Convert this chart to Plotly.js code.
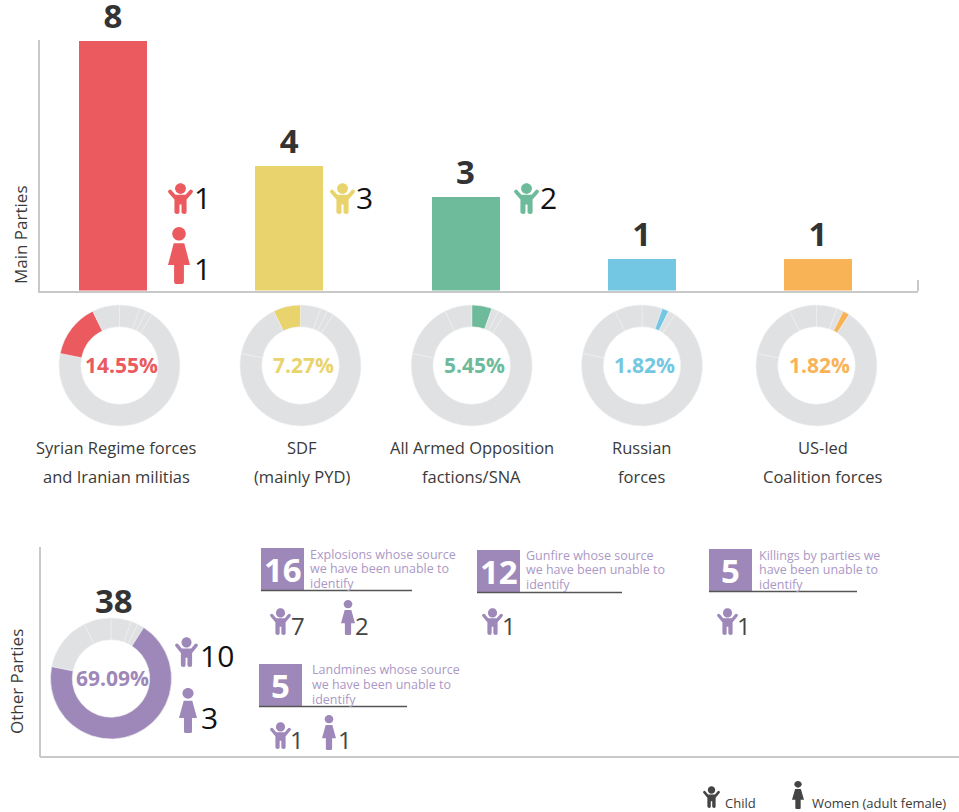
<!DOCTYPE html>
<html><head><meta charset="utf-8">
<script src="https://cdn.plot.ly/plotly-3.0.1.min.js"></script>
<style>html,body{margin:0;padding:0;background:#fff}#c{width:959px;height:812px}</style>
</head><body><div id="c"></div>
<script>
// ---- data ----
var parties = ["Syrian Regime forces and Iranian militias","SDF (mainly PYD)","All Armed Opposition factions/SNA","Russian forces","US-led Coalition forces"];
var partyDeaths = [8,4,3,1,1];
var partyColors = ["#ea5a5f","#e8d36c","#6dbb9b","#74c7e3","#f8b357"];
var partyPercent = ["14.55%","7.27%","5.45%","1.82%","1.82%"];
var labelLine1 = ["Syrian Regime forces","SDF","All Armed Opposition","Russian","US-led"];
var labelLine2 = ["and Iranian militias","(mainly PYD)","factions/SNA","forces","Coalition forces"];
var partyChildren = [1,3,2,null,null];
var partyWomen = [1,null,null,null,null];
// donut: slices clockwise from 12 o'clock
var sliceNames = ["All Armed Opposition","Russian forces","US-led Coalition","Other Parties","Syrian Regime","SDF"];
var sliceValues = [3,1,1,38,8,4];
var donutHighlight = [4,5,0,1,2,3];
var otherTotal = 38, otherPercent = "69.09%", otherChildren = 10, otherWomen = 3;
var otherBoxes = ["16","12","5","5"];
var otherBoxText = [
 ["Explosions whose source","we have been unable to","identify"],
 ["Gunfire whose source","we have been unable to","identify"],
 ["Killings by parties we","have been unable to","identify"],
 ["Landmines whose source","we have been unable to","identify"]];
var legendLabels = ["Child","Women (adult female)"];
var yTitles = ["Main Parties","Other Parties"];

// ---- style / layout ----
var W=959,H=812, FONT='"Open Sans", sans-serif';
var GREY="#e0e1e3", PURPLE="#9e88b9", PTEXT="#ab98c6", AXIS="#c9c9c9", DARK="#333333", LABEL="#3a3a3a";
function px(x){return x/W;} function py(y){return 1-y/H;}
function pt(x,y){return px(x).toFixed(5)+","+py(y).toFixed(5);}

var shapes=[], ann=[];
function text(t,x,y,size,color,opt){opt=opt||{};
 ann.push({text:t,xref:"paper",yref:"paper",x:px(x),y:py(y),xanchor:opt.a||"center",yanchor:"middle",showarrow:false,
  textangle:opt.r||0,borderpad:0,font:{family:FONT,size:size,color:color,weight:opt.b?700:400}});
}
function line(x0,y0,x1,y1,c,w){shapes.push({type:"line",xref:"paper",yref:"paper",x0:px(x0),y0:py(y0),x1:px(x1),y1:py(y1),line:{color:c,width:w}});}
function rect(x0,y0,x1,y1,c){shapes.push({type:"rect",xref:"paper",yref:"paper",x0:px(x0),y0:py(y0),x1:px(x1),y1:py(y1),fillcolor:c,line:{width:0}});}
function icon(segs,bw,bh,x,y,w,h,c){
 var sx=w/bw, sy=h/bh, d="";
 segs.forEach(function(s){
  d+=s[0];
  for(var i=1;i<s.length;i+=2){d+=(i>1?" ":"")+pt(x+s[i]*sx,y+s[i+1]*sy);}
  d+=" ";
 });
 shapes.push({type:"path",xref:"paper",yref:"paper",path:d+"Z",fillcolor:c,line:{width:0}});
}
function circleSegs(cx,cy,r){var k=r*0.5523;return [["M",cx,cy-r],["C",cx+k,cy-r,cx+r,cy-k,cx+r,cy],["C",cx+r,cy+k,cx+k,cy+r,cx,cy+r],["C",cx-k,cy+r,cx-r,cy+k,cx-r,cy],["C",cx-r,cy-k,cx-k,cy-r,cx,cy-r]];}
var childBody=[["M",22,36],["L",52,36],["L",64,22],["Q",68,18,72,22],["Q",76,26,72,30],["L",55,50],["L",55,88],["Q",55,94,49,94],["Q",40,94,40,88],["L",40,65],["L",34,65],["L",34,88],["Q",34,94,28,94],["Q",19,94,19,88],["L",19,50],["L",2,30],["Q",-2,26,2,22],["Q",6,18,10,22]];
var womanBody=[["M",17,48],["L",48,48],["L",65,112],["L",47,112],["L",47,162],["Q",47,168,41,168],["L",24,168],["Q",18,168,18,162],["L",18,112],["L",0,112]];
function child(x,y,w,h,c){icon(circleSegs(37,17,16),74,94,x,y,w,h,c);icon(childBody,74,94,x,y,w,h,c);}
function woman(x,y,w,h,c){icon(circleSegs(32.5,20,20),65,168,x,y,w,h,c);icon(womanBody,65,168,x,y,w,h,c);}

// axes furniture
line(918,280,918,291,AXIS,2);
line(40,547,40,757,AXIS,2);
line(40,757,959,757,AXIS,2);
text(yTitles[0],21,235,17,LABEL,{r:-90});
text(yTitles[1],16,682,17,LABEL,{r:-90});

// traces
var traces=[{type:"bar",x:parties,y:partyDeaths,width:68/176.25,marker:{color:partyColors,line:{width:0}},
 text:partyDeaths.map(String),textposition:"outside",cliponaxis:false,
 textfont:{family:FONT,size:33,color:DARK,weight:700},hoverinfo:"skip"}];

function donut(cx,cy,colors){
 traces.push({type:"pie",values:sliceValues,labels:sliceNames,sort:false,direction:"clockwise",rotation:0,hole:0.64,
  textinfo:"none",hoverinfo:"skip",showlegend:false,
  marker:{colors:colors,line:{color:"#eff0f1",width:0.6}},
  domain:{x:[px(cx-60.5),px(cx+60.5)],y:[py(cy+60.5),py(cy-60.5)]}});
}
var dCx=[119.5,300.5,471.7,642,816.5], pctX=[121.5,303,474,644.5,819], lblX=[116,302,471.5,641,822.5];
parties.forEach(function(p,i){
 donut(dCx[i],365.5,sliceValues.map(function(v,j){return j===donutHighlight[i]?partyColors[i]:GREY;}));
 text(partyPercent[i],pctX[i],365,21,partyColors[i],{b:true});
 text(labelLine1[i],lblX[i],447,16.5,LABEL);
 text(labelLine2[i],lblX[i],476.5,16.5,LABEL);
});
var childX=[168,330,514];
partyChildren.forEach(function(n,i){ if(n===null)return;
 child(childX[i],183,25,31,partyColors[i]);
 text(String(n),childX[i]+34,198,30,"#111111");
});
woman(168,227,22,57,partyColors[0]); text(String(partyWomen[0]),202,269,30,"#111111");

// other parties
donut(111,678.5,sliceValues.map(function(v,j){return j===3?PURPLE:GREY;}));
text(otherPercent,112.5,678,21,PURPLE,{b:true});
text(String(otherTotal),114,600,33,DARK,{b:true});
child(175,637,23,30,PURPLE); text(String(otherChildren),217,655,30,"#111111");
woman(179,688,18,45,PURPLE); text(String(otherWomen),209,717,30,"#111111");

var box=[{x:261,y:548,end:412,tx:309,ty:[554,568,583]},{x:477,y:550,end:622,tx:525,ty:[555,569,584]},
         {x:709,y:549,end:857,tx:758,ty:[555,569,584]},{x:259,y:664,end:407,tx:311,ty:[669,684,699]}];
box.forEach(function(b,i){
 rect(b.x,b.y,b.x+43,b.y+42,PURPLE);
 line(b.x,b.y+42.5,b.end,b.y+42.5,"#555555",1.5);
 text(otherBoxes[i],b.x+21.5,b.y+21,33,"#ffffff",{b:true});
 otherBoxText[i].forEach(function(t,j){text(t,b.tx,b.ty[j],12.5,PTEXT,{a:"left"});});
});
var small=24, sc="#444444";
child(270,608,21,27,PURPLE); text("7",298,625,small,sc);
woman(341,600,14,35,PURPLE); text("2",362,625,small,sc);
child(482,608,21,27,PURPLE); text("1",509,625,small,sc);
child(717,608,21,27,PURPLE); text("1",744,625,small,sc);
child(270,722,21,27,PURPLE); text("1",297,739,small,sc);
woman(322,715,14,35,PURPLE); text("1",345,739,small,sc);

// legend
child(703,786,17,22,"#444444"); text(legendLabels[0],724,803,13,LABEL,{a:"left"});
woman(792,781,12,28,"#444444"); text(legendLabels[1],811,803,13,LABEL,{a:"left"});

var layout={width:W,height:H,margin:{l:0,r:0,t:0,b:0,pad:0},paper_bgcolor:"#fff",plot_bgcolor:"#fff",showlegend:false,
 font:{family:FONT},bargap:0,
 xaxis:{domain:[px(40),px(918)],range:[-73/176.25,805/176.25],type:"category",fixedrange:true,showgrid:false,zeroline:false,
  showticklabels:false,ticks:"",showline:true,linecolor:AXIS,linewidth:2},
 yaxis:{domain:[py(290.5),py(40)],range:[0,8.03],fixedrange:true,showgrid:false,zeroline:false,
  showticklabels:false,ticks:"",showline:true,linecolor:AXIS,linewidth:2},
 shapes:shapes,annotations:ann};
Plotly.newPlot("c",traces,layout,{displayModeBar:false,staticPlot:true});
</script></body></html>
